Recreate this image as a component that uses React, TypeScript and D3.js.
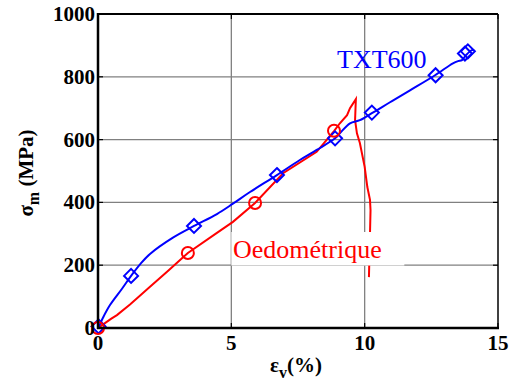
import React, { useEffect, useRef } from "react";
import * as d3 from "d3";

// TXT600 curve (strain %, stress MPa)
const txtStrain = [0, 0.05, 0.2, 0.45, 0.9, 1.24, 1.6, 1.95, 2.81, 3.6, 4.46, 5.06, 5.7, 6.71, 7.57, 8.2, 8.89, 9.07, 9.45, 9.82, 10.27, 10.95, 11.7, 12.64, 13.31, 13.5, 13.65, 13.8, 14.02, 14.1];
const txtStress = [0, 8, 35, 73, 125, 166, 205, 236, 288, 325, 363, 396, 433, 487, 535, 567, 604, 620, 652, 662, 684, 719, 757, 805, 843, 850, 853, 869, 885, 884];
const txtMarkX = [0.02, 1.24, 3.6, 6.71, 8.89, 10.27, 12.66, 13.76, 13.87];
const txtMarkY = [5, 166, 325, 487, 604, 686, 805, 874, 881];

// Oedometric curve
const oedoStrain = [0, 0.3, 0.5, 0.71, 1.2, 1.95, 2.6, 3.37, 4.46, 5.06, 5.89, 6.94, 8.2, 8.85, 9.07, 9.34, 9.45, 9.67, 9.64, 9.71, 9.82, 10.0, 10.1, 10.2, 10.22, 10.2, 10.16];
const oedoStress = [0, 18, 30, 41, 75, 131, 180, 239, 303, 338, 398, 493, 561, 627, 652, 678, 700, 729, 662, 620, 589, 513, 449, 408, 375, 302, 162];
const oedoMarkX = [0, 3.37, 5.89, 8.85];
const oedoMarkY = [0, 239, 398, 628];

const xTicks = [0, 5, 10, 15];
const yTicks = [0, 200, 400, 600, 800, 1000];

const FONT = "'Liberation Serif', 'Times New Roman', serif";

const App = () => {
  const ref = useRef<SVGSVGElement | null>(null);

  useEffect(() => {
    if (!ref.current) return;
    const svg = d3.select(ref.current);
    svg.selectAll("*").remove();

    const x = d3.scaleLinear().domain([0, 15]).range([98, 498]);
    const y = d3.scaleLinear().domain([0, 1000]).range([328, 14]);
    const [x0, x1] = x.range();
    const [y0, y1] = y.range();

    // grid
    const grid = svg.append("g");
    grid.selectAll(".gx").data(xTicks.slice(1, -1)).enter().append("line")
      .attr("x1", (d) => x(d)).attr("x2", (d) => x(d))
      .attr("y1", y0).attr("y2", y1)
      .attr("stroke", "#808080").attr("stroke-width", 1.3);
    grid.selectAll(".gy").data(yTicks.slice(1, -1)).enter().append("line")
      .attr("x1", x0).attr("x2", x1)
      .attr("y1", (d) => y(d)).attr("y2", (d) => y(d))
      .attr("stroke", "#808080").attr("stroke-width", 1.3);

    // oedometric
    svg.append("path")
      .attr("d", d3.line<number>().x((d) => x(d)).y((d, i) => y(oedoStress[i]))(oedoStrain))
      .attr("fill", "none").attr("stroke", "#ff0000").attr("stroke-width", 2);

    // TXT600
    svg.append("path")
      .attr("d", d3.line<number>().x((d) => x(d)).y((d, i) => y(txtStress[i]))
        .curve(d3.curveCatmullRom)(txtStrain))
      .attr("fill", "none").attr("stroke", "#0000ff").attr("stroke-width", 2);

    svg.append("g").selectAll("path").data(txtMarkX).enter().append("path")
      .attr("d", (d, i) => {
        const cx = x(d), cy = y(txtMarkY[i]), r = 7;
        return `M${cx},${cy - r}L${cx + r},${cy}L${cx},${cy + r}L${cx - r},${cy}Z`;
      })
      .attr("fill", "none").attr("stroke", "#0000ff").attr("stroke-width", 2);

    svg.append("g").selectAll("circle").data(oedoMarkX).enter().append("circle")
      .attr("cx", (d) => x(d)).attr("cy", (d, i) => y(oedoMarkY[i]))
      .attr("r", 6)
      .attr("fill", "none").attr("stroke", "#ff0000").attr("stroke-width", 2);

    // labels in plot
    svg.append("rect")
      .attr("x", x(5)).attr("y", 232)
      .attr("width", 173).attr("height", 33.5)
      .attr("fill", "#ffffff");
    svg.append("text")
      .attr("x", 233).attr("y", 258)
      .attr("font-family", FONT).attr("font-size", 26)
      .attr("fill", "#ff0000")
      .text("Oedométrique");
    svg.append("text")
      .attr("x", 337).attr("y", 68)
      .attr("font-family", FONT).attr("font-size", 26)
      .attr("fill", "#0000ff")
      .text("TXT600");

    // box + ticks
    svg.append("line").attr("x1", x0).attr("x2", x1).attr("y1", y1).attr("y2", y1)
      .attr("stroke", "#000").attr("stroke-width", 2);
    svg.append("line").attr("x1", x1).attr("x2", x1).attr("y1", y0).attr("y2", y1)
      .attr("stroke", "#000").attr("stroke-width", 1.5);
    svg.append("line").attr("x1", x0).attr("x2", x0).attr("y1", y0 + 1).attr("y2", y1 - 1)
      .attr("stroke", "#000").attr("stroke-width", 2.5);
    svg.append("line").attr("x1", x0 - 1).attr("x2", x1 + 1).attr("y1", y0).attr("y2", y0)
      .attr("stroke", "#000").attr("stroke-width", 2.5);

    const ticks = svg.append("g").attr("stroke", "#000").attr("stroke-width", 1.2);
    xTicks.forEach((t) => {
      ticks.append("line").attr("x1", x(t)).attr("x2", x(t)).attr("y1", y0).attr("y2", y0 - 5);
      ticks.append("line").attr("x1", x(t)).attr("x2", x(t)).attr("y1", y1).attr("y2", y1 + 5);
    });
    yTicks.forEach((t) => {
      ticks.append("line").attr("x1", x0).attr("x2", x0 + 5).attr("y1", y(t)).attr("y2", y(t));
      ticks.append("line").attr("x1", x1).attr("x2", x1 - 5).attr("y1", y(t)).attr("y2", y(t));
    });

    // tick labels
    svg.append("g").selectAll("text").data(xTicks).enter().append("text")
      .attr("x", (d) => x(d)).attr("y", 350)
      .attr("text-anchor", "middle")
      .attr("font-family", FONT).attr("font-size", 21).attr("font-weight", "bold")
      .text((d) => d);
    svg.append("g").selectAll("text").data(yTicks).enter().append("text")
      .attr("x", 95).attr("y", (d) => y(d) + 7)
      .attr("text-anchor", "end")
      .attr("font-family", FONT).attr("font-size", 21).attr("font-weight", "bold")
      .text((d) => d);

    // axis titles
    const xl = svg.append("text")
      .attr("x", 296).attr("y", 372)
      .attr("text-anchor", "middle")
      .attr("font-family", FONT).attr("font-size", 21).attr("font-weight", "bold");
    xl.append("tspan").text("ε");
    xl.append("tspan").attr("dy", 6).attr("font-size", 16).text("v");
    xl.append("tspan").attr("dy", -6).text("(%)");

    const yl = svg.append("text")
      .attr("transform", "translate(33,173) rotate(-90)")
      .attr("text-anchor", "middle")
      .attr("font-family", FONT).attr("font-size", 21).attr("font-weight", "bold");
    yl.append("tspan").text("σ");
    yl.append("tspan").attr("dy", 6).attr("font-size", 16).text("m");
    yl.append("tspan").attr("dy", -6).text(" (MPa)");
  }, []);

  return (
    <svg
      ref={ref}
      width={512}
      height={385}
      style={{ position: "absolute", left: 0, top: 0, background: "#fff" }}
    />
  );
};

export default App;
